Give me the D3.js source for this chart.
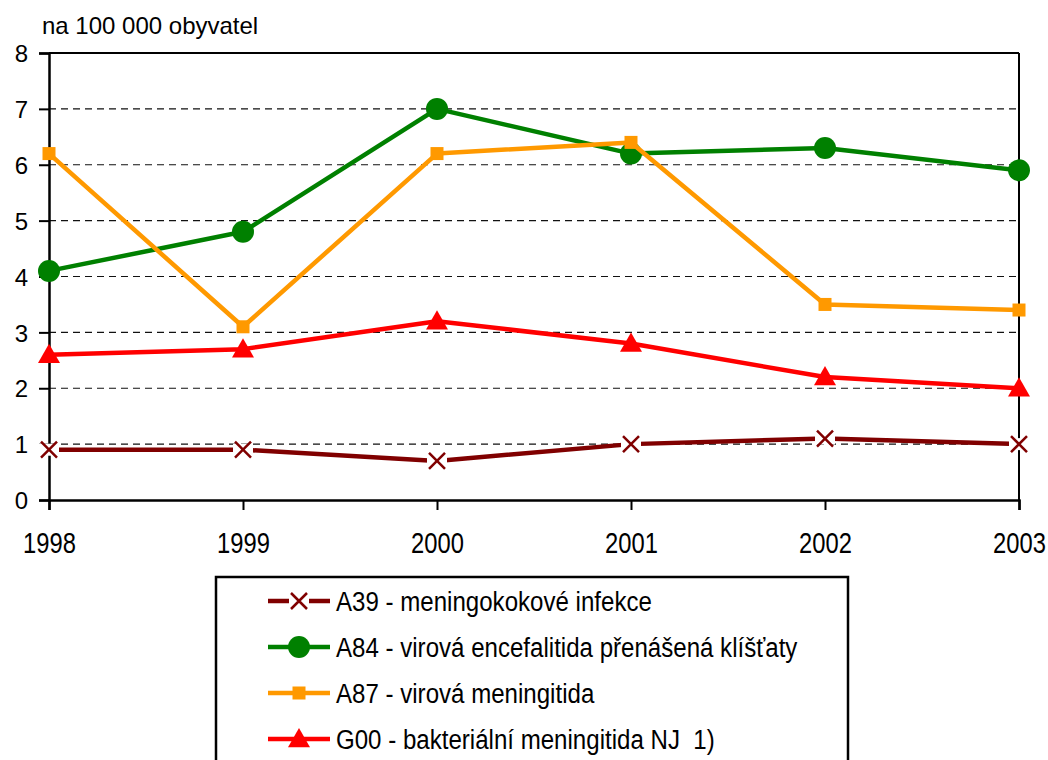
<!DOCTYPE html>
<html>
<head>
<meta charset="utf-8">
<script src="https://cdn.jsdelivr.net/npm/d3@7"></script>
<style>
  body { margin: 0; background: #fff; }
  svg { display: block; font-family: "Liberation Sans", Arial, sans-serif; }
</style>
</head>
<body>
<svg id="canvas"></svg>
<script>
let years = [1998, 1999, 2000, 2001, 2002, 2003]
let yTicks = [0, 1, 2, 3, 4, 5, 6, 7, 8]

let a39 = [0.9, 0.9, 0.7, 1.0, 1.1, 1.0]
let a84 = [4.1, 4.8, 7.0, 6.2, 6.3, 5.9]
let a87 = [6.2, 3.1, 6.2, 6.4, 3.5, 3.4]
let g00 = [2.6, 2.7, 3.2, 2.8, 2.2, 2.0]

let seriesNames = [
    'A39 - meningokokové infekce',
    'A84 - virová encefalitida přenášená klíšťaty',
    'A87 - virová meningitida',
    'G00 - bakteriální meningitida NJ  1)'
]
let seriesColors = ['#800000', '#008000', '#FF9900', '#FF0000']
let seriesMarkers = ['x', 'circle', 'square', 'triangle']
let seriesValues = [a39, a84, a87, g00]

let w = 1048
let h = 760
let plotLeft = 49, plotRight = 1019, plotTop = 53, plotBottom = 500

let canvas = d3.select('#canvas').attr('width', w).attr('height', h)

let xScale = d3.scalePoint().domain(years).range([plotLeft, plotRight])
let yScale = d3.scaleLinear().domain([0, 8]).range([plotBottom, plotTop])

// grid
canvas.append('g')
    .selectAll('line')
    .data(yTicks.filter(d => d > 0 && d < 8))
    .enter()
    .append('line')
    .attr('x1', plotLeft).attr('x2', plotRight)
    .attr('y1', d => yScale(d)).attr('y2', d => yScale(d))
    .attr('stroke', '#111')
    .attr('stroke-width', 1.2)
    .attr('stroke-dasharray', '7,5')

// frame top/right
canvas.append('line').attr('x1', plotLeft).attr('x2', plotRight).attr('y1', plotTop).attr('y2', plotTop)
    .attr('stroke', '#000').attr('stroke-width', 2)
canvas.append('line').attr('x1', plotRight).attr('x2', plotRight).attr('y1', plotTop).attr('y2', plotBottom)
    .attr('stroke', '#000').attr('stroke-width', 2)

// axes
let yAxis = d3.axisLeft(yScale).tickValues(yTicks).tickSize(10).tickFormat(d3.format('d'))
let gy = canvas.append('g').attr('transform', 'translate(' + plotLeft + ',0)').call(yAxis)
gy.select('.domain').attr('stroke', '#000').attr('stroke-width', 2.5)
gy.selectAll('.tick line').attr('stroke', '#000').attr('stroke-width', 2)
gy.selectAll('.tick text')
    .attr('x', -21).attr('dy', '0.36em')
    .style('font-size', '24px').attr('fill', '#000')

let xAxis = d3.axisBottom(xScale).tickSize(10).tickFormat(d3.format('d'))
let gx = canvas.append('g').attr('transform', 'translate(0,' + plotBottom + ')').call(xAxis)
gx.select('.domain').attr('stroke', '#000').attr('stroke-width', 2.5)
gx.selectAll('.tick line').attr('stroke', '#000').attr('stroke-width', 2)
gx.selectAll('.tick text').remove()
gx.selectAll('.tick').append('text')
    .attr('transform', 'translate(0,53) scale(0.82,1)')
    .attr('text-anchor', 'middle')
    .style('font-size', '29px').attr('fill', '#000')
    .text(d => d)

canvas.append('text')
    .attr('x', 42).attr('y', 34)
    .style('font-size', '24px').attr('fill', '#000')
    .text('na 100 000 obyvatel')

let drawMarker = (g, type, color, cx, cy, s) => {
    if (type === 'x') {
        g.append('rect').attr('x', cx - 10).attr('y', cy - 6).attr('width', 20).attr('height', 12).attr('fill', '#fff')
        let r = 8 * s
        g.append('path')
            .attr('d', 'M' + (cx - r) + ',' + (cy - r) + 'L' + (cx + r) + ',' + (cy + r) +
                'M' + (cx - r) + ',' + (cy + r) + 'L' + (cx + r) + ',' + (cy - r))
            .attr('stroke', color).attr('stroke-width', 2.5).attr('fill', 'none')
    } else if (type === 'circle') {
        g.append('circle').attr('cx', cx).attr('cy', cy).attr('r', 11 * s).attr('fill', color)
    } else if (type === 'square') {
        let a = 6.5 * s
        g.append('rect').attr('x', cx - a).attr('y', cy - a).attr('width', 2 * a).attr('height', 2 * a).attr('fill', color)
    } else {
        let a = 11 * s
        g.append('path')
            .attr('d', 'M' + cx + ',' + (cy - a) + 'L' + (cx + a) + ',' + (cy + 0.75 * a) + 'L' + (cx - a) + ',' + (cy + 0.75 * a) + 'Z')
            .attr('fill', color)
    }
}

let line = d3.line()
    .x((d, i) => xScale(years[i]))
    .y(d => yScale(d))

seriesValues.forEach((vals, k) => {
    let g = canvas.append('g')
    g.append('path')
        .datum(vals)
        .attr('d', line)
        .attr('fill', 'none')
        .attr('stroke', seriesColors[k])
        .attr('stroke-width', 4.5)
        .attr('stroke-linejoin', 'round')
    vals.forEach((v, i) => {
        drawMarker(g, seriesMarkers[k], seriesColors[k], xScale(years[i]), yScale(v), 1)
    })
})

// legend
let legend = canvas.append('g')
legend.append('rect')
    .attr('x', 216).attr('y', 577).attr('width', 632).attr('height', 200)
    .attr('fill', '#fff').attr('stroke', '#000').attr('stroke-width', 2.5)

let rowY = d3.scalePoint().domain(d3.range(seriesNames.length)).range([601, 739])

seriesNames.forEach((name, k) => {
    let y = rowY(k)
    legend.append('line')
        .attr('x1', 268).attr('x2', 330).attr('y1', y).attr('y2', y)
        .attr('stroke', seriesColors[k]).attr('stroke-width', 4.5)
    drawMarker(legend, seriesMarkers[k], seriesColors[k], 299, y, 1)
    legend.append('text')
        .attr('transform', 'translate(336,' + (y + 10) + ') scale(0.86,1)')
        .style('font-size', '28px').style('white-space', 'pre').attr('fill', '#000')
        .text(name)
})
</script>
</body>
</html>
